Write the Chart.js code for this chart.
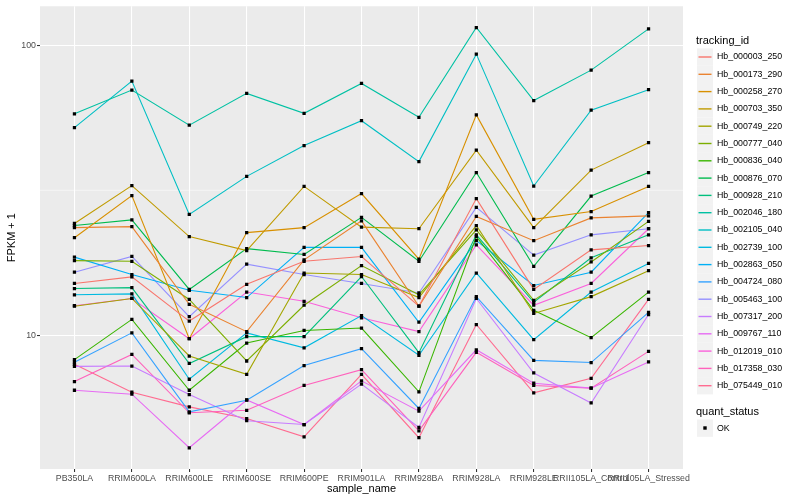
<!DOCTYPE html>
<html>
<head>
<meta charset="utf-8">
<script src="https://cdn.jsdelivr.net/npm/chart.js@4.4.1/dist/chart.umd.min.js"></script>
<style>
  body { margin: 0; background: #fff; }
</style>
</head>
<body>
<canvas id="chart" width="800" height="500"></canvas>
<script>
// sample names on the x axis
var sampleNames = ["PB350LA", "RRIM600LA", "RRIM600LE", "RRIM600SE", "RRIM600PE", "RRIM901LA",
  "RRIM928BA", "RRIM928LA", "RRIM928LE", "RRII105LA_Control", "RRII105LA_Stressed"];

// FPKM + 1, one array per gene, in sample order
var hb_000003_250 = [15.1, 15.9, 11.2, 15.0, 18.0, 18.7, 12.6, 29.6, 14.4, 19.7, 20.4];
var hb_000173_290 = [23.5, 23.7, 12.8, 10.3, 18.2, 24.8, 12.6, 25.7, 21.2, 25.4, 25.8];
var hb_000258_270 = [21.7, 30.3, 9.74, 22.6, 23.5, 30.8, 18.3, 57.5, 25.1, 26.7, 32.6];
var hb_000703_350 = [24.3, 32.8, 21.9, 19.6, 32.6, 23.6, 23.3, 43.5, 23.5, 37.1, 46.1];
var hb_000749_220 = [12.6, 13.4, 8.49, 7.34, 16.4, 16.2, 13.5, 23.9, 11.9, 13.6, 16.7];
var hb_000777_040 = [18.1, 18.0, 13.3, 8.16, 12.7, 17.4, 13.8, 23.1, 13.2, 17.9, 24.7];
var hb_000836_040 = [8.25, 11.35, 6.47, 9.41, 10.4, 10.6, 6.39, 21.9, 12.2, 9.82, 14.1];
var hb_000876_070 = [23.9, 25.0, 14.4, 19.9, 19.0, 25.5, 18.0, 36.4, 17.3, 30.2, 36.4];
var hb_000928_210 = [14.5, 14.6, 8.0, 9.9, 9.9, 15.95, 8.72, 22.2, 13.0, 18.5, 22.2];
var hb_002046_180 = [58.0, 70.0, 53.0, 68.2, 58.2, 73.8, 56.4, 115, 64.4, 82.0, 113.8];
var hb_002105_040 = [52.0, 75.2, 26.1, 35.3, 45.1, 54.9, 39.7, 93.1, 32.7, 59.7, 70.2];
var hb_002739_100 = [13.8, 13.9, 7.06, 10.2, 9.06, 11.7, 8.54, 16.4, 9.66, 14.1, 17.7];
var hb_002863_050 = [18.6, 16.2, 14.3, 13.5, 20.1, 20.1, 11.1, 21.2, 14.85, 16.5, 26.5];
var hb_004724_080 = [8.08, 10.2, 5.45, 5.98, 7.87, 9.0, 5.6, 13.6, 8.2, 8.06, 12.0];
var hb_005463_100 = [16.5, 18.7, 11.6, 17.6, 16.2, 15.1, 14.0, 27.6, 18.9, 22.2, 23.3];
var hb_007317_200 = [7.82, 7.84, 6.25, 5.08, 4.93, 6.79, 4.82, 13.4, 7.42, 5.85, 11.8];
var hb_009767_110 = [6.47, 6.27, 4.10, 5.99, 4.93, 6.97, 5.48, 8.92, 6.84, 6.58, 8.1];
var hb_012019_010 = [12.65, 13.4, 9.74, 14.1, 13.1, 11.5, 10.3, 20.5, 12.7, 15.1, 23.3];
var hb_017358_030 = [6.93, 8.6, 5.41, 5.52, 6.72, 7.62, 4.69, 8.74, 6.72, 6.58, 8.81];
var hb_075449_010 = [7.95, 6.37, 5.67, 5.17, 4.47, 7.34, 4.44, 10.9, 6.34, 7.11, 13.3];

var trackingIds = ["Hb_000003_250", "Hb_000173_290", "Hb_000258_270", "Hb_000703_350", "Hb_000749_220",
  "Hb_000777_040", "Hb_000836_040", "Hb_000876_070", "Hb_000928_210", "Hb_002046_180",
  "Hb_002105_040", "Hb_002739_100", "Hb_002863_050", "Hb_004724_080", "Hb_005463_100",
  "Hb_007317_200", "Hb_009767_110", "Hb_012019_010", "Hb_017358_030", "Hb_075449_010"];
var seriesValues = [hb_000003_250, hb_000173_290, hb_000258_270, hb_000703_350, hb_000749_220,
  hb_000777_040, hb_000836_040, hb_000876_070, hb_000928_210, hb_002046_180,
  hb_002105_040, hb_002739_100, hb_002863_050, hb_004724_080, hb_005463_100,
  hb_007317_200, hb_009767_110, hb_012019_010, hb_017358_030, hb_075449_010];

var yTicks = [10, 100];
var yMinorTicks = [31.62];
var quantStatus = ["OK"];

// ggplot hue palette, 20 levels
var palette = ["#F8766D", "#EA8331", "#D89000", "#C09B00", "#A3A500", "#7CAE00", "#39B600", "#00BB4E",
  "#00BF7D", "#00C1A3", "#00BFC4", "#00BAE0", "#00B0F6", "#35A2FF", "#9590FF", "#C77CFF",
  "#E76BF3", "#FA62DB", "#FF62BC", "#FF6C91"];

var FONT = '"Liberation Sans", Arial, sans-serif';

var datasets = trackingIds.map(function (id, i) {
  return {
    label: id,
    data: seriesValues[i].map(function (v, j) { return { x: j, y: v }; }),
    borderColor: palette[i],
    borderWidth: 1.1,
    pointRadius: 0,
    showLine: true,
    order: 1
  };
});

// all points go on top of the lines, as in ggplot
var allPoints = [];
seriesValues.forEach(function (vals) {
  vals.forEach(function (v, j) { allPoints.push({ x: j, y: v }); });
});
datasets.push({
  label: quantStatus[0],
  data: allPoints,
  showLine: false,
  pointStyle: 'rect',
  pointRadius: 2.3,
  pointBackgroundColor: '#000',
  pointBorderColor: '#000',
  pointBorderWidth: 0,
  order: 0
});

var panel = {
  id: 'panel',
  beforeDraw: function (chart) {
    var ctx = chart.ctx, a = chart.chartArea, y = chart.scales.y;
    ctx.save();
    ctx.fillStyle = '#EBEBEB';
    ctx.fillRect(a.left, a.top, a.right - a.left, a.bottom - a.top);
    ctx.strokeStyle = '#FFFFFF';
    ctx.lineWidth = 0.55;
    yMinorTicks.forEach(function (v) {
      var py = y.getPixelForValue(v);
      ctx.beginPath();
      ctx.moveTo(a.left, py);
      ctx.lineTo(a.right, py);
      ctx.stroke();
    });
    ctx.restore();
  }
};

// ggplot-style legend to the right of the panel
var sideLegend = {
  id: 'sideLegend',
  afterDraw: function (chart) {
    var ctx = chart.ctx;
    var x0 = chart.chartArea.right + 14;
    ctx.save();
    ctx.textBaseline = 'middle';
    ctx.textAlign = 'left';
    ctx.fillStyle = '#000';
    ctx.font = '11px ' + FONT;
    ctx.fillText('tracking_id', x0 - 1, 41);
    ctx.font = '8.8px ' + FONT;
    trackingIds.forEach(function (id, i) {
      var cy = 57 + i * 17.3;
      ctx.fillStyle = '#F2F2F2';
      ctx.fillRect(x0, cy - 8.6, 16, 17.3);
      ctx.strokeStyle = palette[i];
      ctx.lineWidth = 1.4;
      ctx.beginPath();
      ctx.moveTo(x0 + 1.5, cy);
      ctx.lineTo(x0 + 14.5, cy);
      ctx.stroke();
      ctx.fillStyle = '#000';
      ctx.fillText(id, x0 + 20, cy);
    });
    ctx.font = '11px ' + FONT;
    ctx.fillText('quant_status', x0 - 1, 412);
    ctx.fillStyle = '#F2F2F2';
    ctx.fillRect(x0, 419.5, 16, 17.3);
    ctx.fillStyle = '#000';
    ctx.fillRect(x0 + 6.3, 426.3, 3.4, 3.4);
    ctx.font = '8.8px ' + FONT;
    ctx.fillText(quantStatus[0], x0 + 20, 428.2);
    ctx.restore();
  }
};

new Chart('chart', {
  type: 'scatter',
  data: { datasets: datasets },
  plugins: [panel, sideLegend],
  options: {
    responsive: false,
    animation: false,
    devicePixelRatio: 1,
    layout: { padding: { left: 0, top: 5, right: 117, bottom: 0 } },
    plugins: { legend: { display: false }, tooltip: { enabled: false } },
    scales: {
      x: {
        type: 'linear',
        min: -0.6,
        max: sampleNames.length - 0.4,
        afterBuildTicks: function (s) { s.ticks = sampleNames.map(function (n, i) { return { value: i }; }); },
        afterFit: function (s) { s.height = 31; },
        ticks: {
          callback: function (v) { return sampleNames[v]; },
          autoSkip: false, maxRotation: 0, minRotation: 0,
          color: '#4D4D4D', font: { size: 8.8, family: FONT }, padding: 1
        },
        grid: { color: '#FFFFFF', lineWidth: 1.07, tickColor: '#333333', tickLength: 3 },
        border: { display: false },
        title: { display: true, text: 'sample_name', color: '#000', font: { size: 11, family: FONT }, padding: { top: 0, bottom: 4 } }
      },
      y: {
        type: 'logarithmic',
        min: 3.464,
        max: 136.1,
        afterBuildTicks: function (s) { s.ticks = yTicks.map(function (v) { return { value: v }; }); },
        afterFit: function (s) { s.width = 40; },
        ticks: {
          callback: function (v) { return String(v); },
          autoSkip: false,
          color: '#4D4D4D', font: { size: 8.8, family: FONT }, padding: 1
        },
        grid: { color: '#FFFFFF', lineWidth: 1.07, tickColor: '#333333', tickLength: 3 },
        border: { display: false },
        title: { display: true, text: 'FPKM + 1', color: '#000', font: { size: 11, family: FONT }, padding: { top: 5, bottom: 0 } }
      }
    }
  }
});
</script>
</body>
</html>
